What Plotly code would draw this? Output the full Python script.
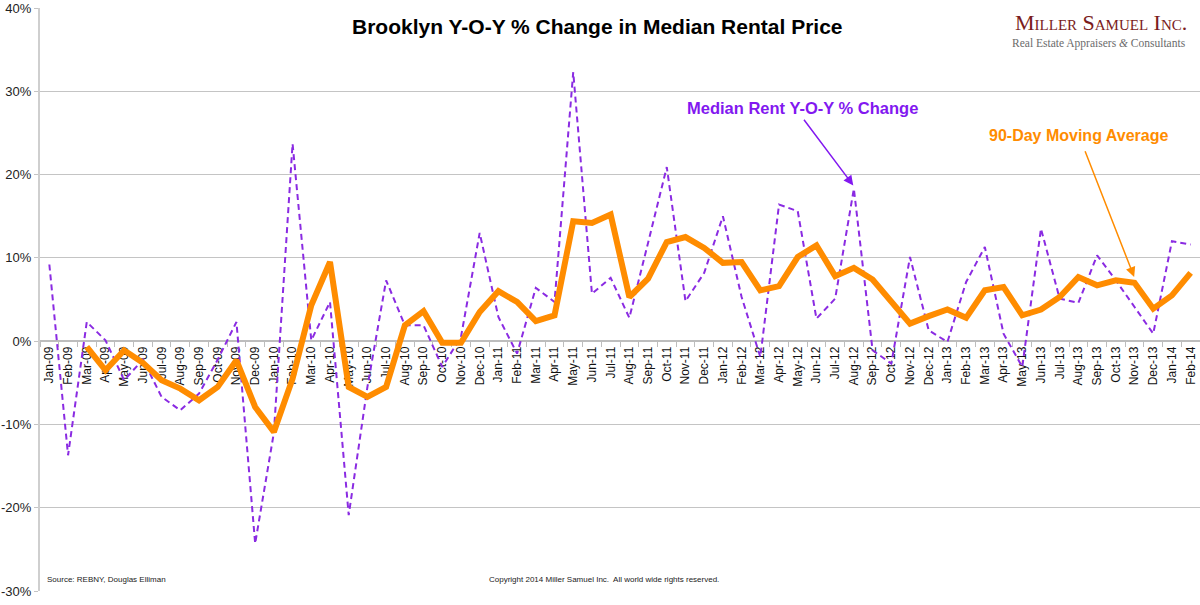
import plotly.graph_objects as go

months = ["Jan-09","Feb-09","Mar-09","Apr-09","May-09","Jun-09","Jul-09","Aug-09","Sep-09","Oct-09","Nov-09","Dec-09",
          "Jan-10","Feb-10","Mar-10","Apr-10","May-10","Jun-10","Jul-10","Aug-10","Sep-10","Oct-10","Nov-10","Dec-10",
          "Jan-11","Feb-11","Mar-11","Apr-11","May-11","Jun-11","Jul-11","Aug-11","Sep-11","Oct-11","Nov-11","Dec-11",
          "Jan-12","Feb-12","Mar-12","Apr-12","May-12","Jun-12","Jul-12","Aug-12","Sep-12","Oct-12","Nov-12","Dec-12",
          "Jan-13","Feb-13","Mar-13","Apr-13","May-13","Jun-13","Jul-13","Aug-13","Sep-13","Oct-13","Nov-13","Dec-13",
          "Jan-14","Feb-14"]

median_rent_yoy = [9.2, -13.7, 2.3, 0.1, -4.7, -2.2, -6.7, -8.3, -6.3, -2.2, 2.3, -24.3,
                   -11.0, 23.7, 0.1, 4.7, -20.9, -5.5, 7.3, 1.9, 1.9, -3.1, 0.5, 13.0,
                   2.9, -1.5, 6.4, 4.7, 32.3, 5.7, 7.6, 2.8, 11.8, 20.9, 4.8, 8.2,
                   15.0, 5.3, -1.9, 16.4, 15.6, 2.7, 5.1, 18.3, -1.1, -2.7, 10.1, 1.3,
                   -0.1, 7.1, 11.3, 0.9, -3.1, 13.5, 5.1, 4.6, 10.3, 7.3, 4.1, 0.9,
                   12.0, 11.6]

moving_avg_90d = [None, None, -0.7, -3.5, -1.1, -2.6, -4.7, -5.7, -7.1, -5.5, -2.3, -7.9,
                  -10.9, -4.5, 4.3, 9.5, -5.5, -6.7, -5.5, 1.9, 3.6, -0.2, -0.2, 3.5,
                  6.0, 4.7, 2.4, 3.1, 14.4, 14.2, 15.2, 5.3, 7.5, 11.9, 12.5, 11.2,
                  9.4, 9.5, 6.1, 6.6, 10.1, 11.5, 7.8, 8.8, 7.4, 4.8, 2.1, 3.0,
                  3.8, 2.8, 6.1, 6.5, 3.1, 3.8, 5.3, 7.7, 6.7, 7.3, 7.0, 3.9,
                  5.5, 8.2]

y_tick_vals = [-30, -20, -10, 0, 10, 20, 30, 40]
y_tick_text = ["-30%", "-20%", "-10%", "0%", "10%", "20%", "30%", "40%"]

PURPLE = "#8a2be2"
PURPLE_TXT = "#8218f0"
ORANGE = "#ff8c00"
FONT = "Liberation Sans, Arial, sans-serif"
SERIF = "Liberation Serif, Times New Roman, serif"

fig = go.Figure()
fig.add_trace(go.Scatter(x=months, y=median_rent_yoy, mode="lines",
                         line=dict(color=PURPLE, width=2, dash="6px,4px"),
                         name="Median Rent Y-O-Y % Change", showlegend=False))
fig.add_trace(go.Scatter(x=months, y=moving_avg_90d, mode="lines",
                         line=dict(color=ORANGE, width=6),
                         connectgaps=False,
                         name="90-Day Moving Average", showlegend=False))

fig.update_layout(
    width=1200, height=605,
    margin=dict(l=40, r=0, t=8, b=14),
    paper_bgcolor="white", plot_bgcolor="white",
    showlegend=False,
    xaxis=dict(type="category", categoryorder="array", categoryarray=months,
               range=[-0.5, len(months) - 0.5],
               anchor="free", position=30 / 70,
               tickangle=-90, tickson="boundaries", ticks="outside", ticklen=5,
               tickcolor="#bdbdbd", tickwidth=1,
               showline=True, linecolor="#bdbdbd", linewidth=1.5,
               showgrid=False, zeroline=False, layer="below traces",
               tickfont=dict(family=FONT, size=12, color="#111")),
    yaxis=dict(range=[-30, 40], tickmode="array", tickvals=y_tick_vals, ticktext=y_tick_text,
               showgrid=True, gridcolor="#c4c4c4", gridwidth=1,
               showline=True, linecolor="#cfcfcf", linewidth=2,
               ticks="outside", ticklen=4, tickcolor="#c4c4c4",
               zeroline=False,
               tickfont=dict(family=FONT, size=13, color="#222")),
)

annotations = [
    dict(text="<b>Brooklyn Y-O-Y % Change in Median Rental Price</b>", xref="paper", yref="paper",
         x=0.481, y=0.969, xanchor="center", yanchor="middle", showarrow=False,
         font=dict(family=FONT, size=21, color="#000")),
    dict(text="Miller Samuel Inc.", xref="paper", yref="paper",
         x=0.99, y=0.9528, xanchor="right", yanchor="bottom", showarrow=False, borderpad=0,
         font=dict(family=SERIF, size=22, color="#7a1c1c", variant="small-caps")),
    dict(text="Real Estate Appraisers <i>&amp;</i> Consultants", xref="paper", yref="paper",
         x=0.989, y=0.9528, xanchor="right", yanchor="top", showarrow=False, borderpad=0,
         font=dict(family=SERIF, size=11.5, color="#6b6b6b")),
    dict(text="<b>Median Rent Y-O-Y % Change</b>", xref="paper", yref="paper",
         x=0.657, y=0.829, xanchor="center", yanchor="middle", showarrow=False,
         font=dict(family=FONT, size=16.5, color=PURPLE_TXT)),
    dict(text="<b>90-Day Moving Average</b>", xref="paper", yref="paper",
         x=0.895, y=0.782, xanchor="center", yanchor="middle", showarrow=False,
         font=dict(family=FONT, size=16, color=ORANGE)),
    dict(text="", x="Aug-12", y=18.6, xref="x", yref="y", ax=-51, ay=-68,
         showarrow=True, arrowhead=2, arrowsize=1.3, arrowwidth=1.5, arrowcolor=PURPLE_TXT, standoff=1),
    dict(text="", x="Nov-13", y=7.6, xref="x", yref="y", ax=-50, ay=-128,
         showarrow=True, arrowhead=2, arrowsize=1.3, arrowwidth=1.5, arrowcolor=ORANGE, standoff=1),
    dict(text="Source: REBNY, Douglas Elliman", xref="paper", yref="paper",
         x=0.0043, y=0.019, xanchor="left", yanchor="middle", showarrow=False,
         font=dict(family=FONT, size=8, color="#222")),
    dict(text="Copyright 2014 Miller Samuel Inc.  All world wide rights reserved.", xref="paper", yref="paper",
         x=0.385, y=0.019, xanchor="left", yanchor="middle", showarrow=False,
         font=dict(family=FONT, size=8, color="#222")),
]
fig.update_layout(annotations=annotations)

fig.write_html("out.html")
